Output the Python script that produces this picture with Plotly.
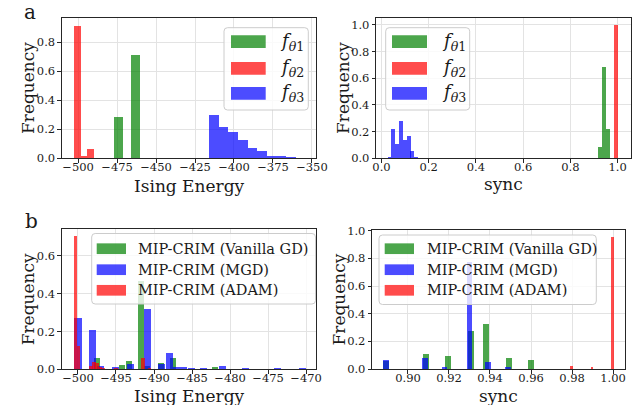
import plotly.graph_objects as go

# ---------------- data ----------------
# Panel a (left): Ising Energy histograms
e1_centers = [-474.0, -463.2]
e1_freq = [0.285, 0.713]
e1_width = 5.5
e2_centers = [-500.3, -496.1, -491.8]
e2_freq = [0.913, 0.016, 0.064]
e2_width = 4.3
e3_centers = [-412.9, -406.7, -400.5, -394.3, -388.1, -381.9, -375.7, -369.5, -363.3]
e3_freq = [0.299, 0.216, 0.180, 0.126, 0.071, 0.050, 0.016, 0.016, 0.009]
e3_width = 6.2

# Panel a (right): sync histograms
s1_centers = [0.926, 0.943, 0.960]
s1_freq = [0.085, 0.680, 0.221]
s1_width = 0.017
s2_centers = [0.9945]
s2_freq = [0.995]
s2_width = 0.021
s3_centers = [0.035, 0.051, 0.067, 0.084, 0.100, 0.116, 0.132, 0.148]
s3_freq = [0.008, 0.214, 0.108, 0.274, 0.138, 0.168, 0.055, 0.010]
s3_width = 0.0162

# Panel b (left): Ising Energy for optimisers
gd_e_centers = [-497.5, -494.2, -493.3, -491.7, -490.9, -489.1, -487.5, -482.0]
gd_e_freq = [0.056, 0.023, 0.044, 0.464, 0.018, 0.032, 0.056, 0.012]
gd_e_width = 0.8
mgd_e_centers = [-500.0, -498.05, -497.0, -495.05, -493.1, -490.9, -489.0, -488.0,
                 -487.0, -486.1, -485.1, -483.5, -481.0, -478.0, -473.8, -470.5]
mgd_e_freq = [0.270, 0.208, 0.018, 0.012, 0.028, 0.320, 0.025, 0.086,
              0.009, 0.011, 0.005, 0.003, 0.016, 0.003, 0.007, 0.003]
mgd_e_width = 0.95
adam_e_centers = [-500.35, -499.93, -498.3, -497.9, -497.5, -497.1, -496.7, -495.0, -491.45, -490.6]
adam_e_freq = [0.706, 0.120, 0.018, 0.039, 0.030, 0.012, 0.006, 0.005, 0.060, 0.004]
adam_e_width = 0.42

# Panel b (right): sync for optimisers
gd_s_centers = [0.8895, 0.9088, 0.9195, 0.9310, 0.9384, 0.9493, 0.9600]
gd_s_freq = [0.058, 0.108, 0.096, 0.273, 0.324, 0.079, 0.065]
gd_s_width = 0.003
mgd_s_centers = [0.8894, 0.9085, 0.9179, 0.9301, 0.9391, 0.9490]
mgd_s_freq = [0.065, 0.079, 0.014, 0.777, 0.050, 0.014]
mgd_s_width = 0.0026
adam_s_centers = [0.9799, 0.9900, 1.0000]
adam_s_freq = [0.022, 0.014, 0.957]
adam_s_width = 0.0012

top_labels = ["<i>f</i><sub><i>θ</i>1</sub>", "<i>f</i><sub><i>θ</i>2</sub>", "<i>f</i><sub><i>θ</i>3</sub>"]
bottom_labels = ["MIP-CRIM (Vanilla GD)", "MIP-CRIM (MGD)", "MIP-CRIM (ADAM)"]

GREEN = "rgba(0,128,0,0.7)"
RED = "rgba(255,0,0,0.7)"
BLUE = "rgba(0,0,255,0.7)"

# ---------------- layout helpers ----------------
W, H = 637, 405
FONT = "DejaVu Serif"
TXT = "#1a1a1a"
SPINE = "#262626"


def px(x):
    return x / W


def py(y):
    return 1 - y / H


fig = go.Figure()


def add_bars(centers, freq, width, color, name, ax):
    fig.add_trace(go.Bar(
        x=centers, y=freq, width=width, name=name,
        marker=dict(color=color, line=dict(width=0)),
        xaxis="x" + ax, yaxis="y" + ax, showlegend=False,
    ))


# panel a-left (axis 1), a-right (2), b-left (3), b-right (4); draw order as in original
add_bars(e1_centers, e1_freq, e1_width, GREEN, "fθ1", "")
add_bars(e2_centers, e2_freq, e2_width, RED, "fθ2", "")
add_bars(e3_centers, e3_freq, e3_width, BLUE, "fθ3", "")
add_bars(s1_centers, s1_freq, s1_width, GREEN, "fθ1", "2")
add_bars(s2_centers, s2_freq, s2_width, RED, "fθ2", "2")
add_bars(s3_centers, s3_freq, s3_width, BLUE, "fθ3", "2")
add_bars(gd_e_centers, gd_e_freq, gd_e_width, GREEN, bottom_labels[0], "3")
add_bars(mgd_e_centers, mgd_e_freq, mgd_e_width, BLUE, bottom_labels[1], "3")
add_bars(adam_e_centers, adam_e_freq, adam_e_width, RED, bottom_labels[2], "3")
add_bars(gd_s_centers, gd_s_freq, gd_s_width, GREEN, bottom_labels[0], "4")
add_bars(mgd_s_centers, mgd_s_freq, mgd_s_width, BLUE, bottom_labels[1], "4")
add_bars(adam_s_centers, adam_s_freq, adam_s_width, RED, bottom_labels[2], "4")

panels = {
    # key: (x px range, y px range, x range, y range, xticks, xfmt, yticks,
    #       xtitle, xtitle pos, ytitle pos, tick-overlay axis id)
    "": ((62, 316), (18.3, 158.3), [-510.3, -347.4], [0, 0.9655],
         [-500, -475, -450, -425, -400, -375, -350], "d", [0, 0.2, 0.4, 0.6, 0.8],
         "Ising Energy", (189, 185.5), (28, 88), "5"),
    "2": ((376.3, 631.3), (18.3, 158.3), [-0.022, 1.058], [0, 1.05],
          [0, 0.2, 0.4, 0.6, 0.8, 1.0], ".1f", [0, 0.2, 0.4, 0.6, 0.8, 1.0],
          "sync", (503.8, 184.5), (343, 88), "6"),
    "3": ((62, 316), (229.3, 369.3), [-502.1, -468.7], [0, 0.741],
          [-500, -495, -490, -485, -480, -475, -470], "d", [0, 0.2, 0.4, 0.6],
          "Ising Energy", (189, 395.5), (28, 299.3), "7"),
    "4": ((372.3, 624.7), (230, 369), [0.8826, 1.0057], [0, 1.005],
          [0.90, 0.92, 0.94, 0.96, 0.98, 1.00], ".2f", [0, 0.2, 0.4, 0.6, 0.8, 1.0],
          "sync", (498.6, 395.5), (338, 299.5), "8"),
}

axis_common = dict(
    showline=True, linecolor=SPINE, linewidth=1.1, mirror=True,
    showgrid=True, gridcolor="#e3e3e3", gridwidth=1, zeroline=False,
    ticks="outside", ticklen=3.5, tickwidth=1, tickcolor=SPINE,
    tickfont=dict(family=FONT, size=11.5, color=TXT),
    automargin=False,
)

layout = dict(
    width=W, height=H, margin=dict(l=0, r=0, t=0, b=0),
    paper_bgcolor="white", plot_bgcolor="white",
    barmode="overlay", bargap=0, showlegend=False,
    font=dict(family=FONT, color=TXT),
)

annotations = []
shapes = []

for key, (xr, yr, xrange, yrange, xt, xf, yt, xtitle, xtpos, ytpos, tk) in panels.items():
    xdom = [px(xr[0]), px(xr[1])]
    # main x axis: labels close to the spine (tick marks come from the overlay axis)
    layout["xaxis" + key] = dict(
        axis_common, domain=xdom, range=xrange, ticks="", ticklabelstandoff=-2,
        tickvals=xt, tickformat=xf, anchor="y" + key,
    )
    # overlay x axis that only draws the outside tick marks
    layout["xaxis" + tk] = dict(
        domain=xdom, range=xrange, tickvals=xt, overlaying="x" + key, anchor="y" + key,
        side="bottom", ticks="outside", ticklen=3.5, tickwidth=1, tickcolor=SPINE,
        showticklabels=False, showgrid=False, showline=False, zeroline=False,
        automargin=False,
    )
    fig.add_trace(go.Scatter(x=[], y=[], xaxis="x" + tk, yaxis="y" + key,
                             showlegend=False, hoverinfo="skip"))
    layout["yaxis" + key] = dict(
        axis_common, domain=[py(yr[1]), py(yr[0])], range=yrange,
        tickvals=yt, tickformat=".1f", anchor="x" + key,
    )
    # axis titles
    annotations.append(dict(xref="paper", yref="paper", x=px(xtpos[0]), y=py(xtpos[1]),
                            text=xtitle, showarrow=False, xanchor="center", yanchor="middle",
                            font=dict(family=FONT, size=17, color=TXT)))
    annotations.append(dict(xref="paper", yref="paper", x=px(ytpos[0]), y=py(ytpos[1]),
                            text="Frequency", showarrow=False, textangle=-90,
                            xanchor="center", yanchor="middle",
                            font=dict(family=FONT, size=17, color=TXT)))

fig.update_layout(**layout)


# ---------------- legends (drawn as boxes, patches and text) ----------------
def rounded_box(x0, y0, x1, y1, r=3.5):
    return (f"M {px(x0 + r)},{py(y0)} L {px(x1 - r)},{py(y0)} "
            f"Q {px(x1)},{py(y0)} {px(x1)},{py(y0 + r)} "
            f"L {px(x1)},{py(y1 - r)} Q {px(x1)},{py(y1)} {px(x1 - r)},{py(y1)} "
            f"L {px(x0 + r)},{py(y1)} Q {px(x0)},{py(y1)} {px(x0)},{py(y1 - r)} "
            f"L {px(x0)},{py(y0 + r)} Q {px(x0)},{py(y0)} {px(x0 + r)},{py(y0)} Z")


def add_legend(box, patch_x, centers, patch_h, text_x, labels, colors, fsize):
    shapes.append(dict(type="path", xref="paper", yref="paper", path=rounded_box(*box),
                       fillcolor="rgba(255,255,255,0.8)", line=dict(color="#cccccc", width=1)))
    for cy, lab, col in zip(centers, labels, colors):
        shapes.append(dict(type="rect", xref="paper", yref="paper",
                           x0=px(patch_x[0]), x1=px(patch_x[1]),
                           y0=py(cy + patch_h / 2), y1=py(cy - patch_h / 2),
                           fillcolor=col, line=dict(width=0)))
        annotations.append(dict(xref="paper", yref="paper", x=px(text_x), y=py(cy),
                                xanchor="left", yanchor="middle", showarrow=False, text=lab,
                                font=dict(family=FONT, size=fsize, color=TXT)))


add_legend((224, 27.7, 308.3, 110), (231, 265.7), [41.7, 68.3, 93.3], 12.7, 278,
           top_labels, [GREEN, RED, BLUE], 18)
add_legend((385.7, 27.7, 469.7, 110), (392, 427), [41.7, 68.3, 93.3], 12.7, 440,
           top_labels, [GREEN, RED, BLUE], 18)
add_legend((91.7, 233.5, 315.5, 304), (96.7, 126), [248.7, 269.7, 290.3], 10.7, 136,
           bottom_labels, [GREEN, BLUE, RED], 14.5)
add_legend((379, 235, 596.3, 304.5), (384.7, 414), [248.7, 269.7, 290.3], 10.7, 424.5,
           bottom_labels, [GREEN, BLUE, RED], 14.5)

# panel letters
annotations.append(dict(xref="paper", yref="paper", x=px(30), y=py(-1.5), text="a",
                        showarrow=False, xanchor="center", yanchor="top",
                        font=dict(family=FONT, size=20, color=TXT)))
annotations.append(dict(xref="paper", yref="paper", x=px(31), y=py(206.5), text="b",
                        showarrow=False, xanchor="center", yanchor="top",
                        font=dict(family=FONT, size=20, color=TXT)))

fig.update_layout(shapes=shapes, annotations=annotations)

fig.write_html("out.html")
